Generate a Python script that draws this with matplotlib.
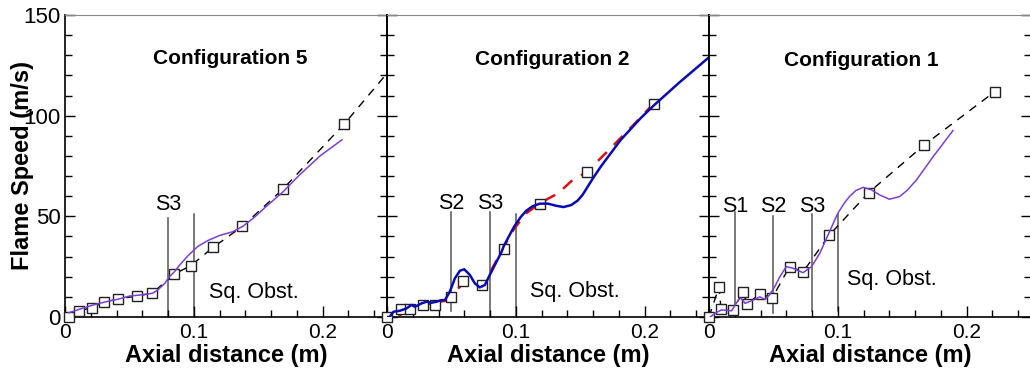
"""Flame speed vs axial distance for three obstacle configurations."""

import matplotlib

matplotlib.use("Agg")
import matplotlib.pyplot as plt
from matplotlib.ticker import MultipleLocator

plt.rcParams["font.family"] = ["Liberation Sans", "DejaVu Sans"]

# --- Configuration 5 ---
c5_exp_x = [0.003, 0.011, 0.021, 0.030, 0.041, 0.0556, 0.0677, 0.085, 0.0977, 0.115, 0.1377, 0.169, 0.217]
c5_exp_y = [0.2, 3.0, 4.7, 7.4, 8.9, 10.4, 11.8, 21.4, 25.5, 34.6, 45.0, 63.4, 96.0]
c5_fit_x = c5_exp_x + [0.25]
c5_fit_y = c5_exp_y + [121.0]
c5_sim_x = [0.003, 0.011, 0.022, 0.032, 0.041, 0.050, 0.058, 0.068, 0.072, 0.0775, 0.081, 0.085,
            0.089, 0.0956, 0.103, 0.111, 0.120, 0.130, 0.138, 0.147, 0.156, 0.169, 0.182, 0.198, 0.215]
c5_sim_y = [2.1, 3.8, 6.0, 7.6, 8.8, 10.4, 10.9, 11.8, 13.4, 16.7, 20.0, 22.5,
            25.8, 30.5, 35.0, 38.0, 40.5, 42.3, 45.0, 49.5, 54.8, 62.0, 70.5, 80.0, 88.0]

# --- Configuration 2 ---
c2_exp_x = [0.0, 0.0108, 0.0178, 0.0278, 0.0372, 0.050, 0.059, 0.074, 0.0905, 0.1186, 0.155, 0.207]
c2_exp_y = [0.0, 3.9, 3.8, 6.0, 6.0, 10.1, 18.0, 16.0, 33.8, 56.0, 72.0, 106.0]
c2_red_x = [0.009, 0.015, 0.020, 0.030, 0.040, 0.045, 0.050, 0.055, 0.059, 0.0667, 0.072, 0.076,
            0.081, 0.090, 0.098, 0.108, 0.120, 0.133, 0.144, 0.155, 0.170, 0.190, 0.207]
c2_red_y = [0.5, 3.0, 4.5, 6.0, 7.5, 8.0, 10.0, 14.0, 16.5, 14.2, 14.8, 16.4,
            23.3, 34.0, 43.2, 51.5, 57.0, 61.5, 68.0, 72.0, 81.5, 94.5, 106.0]
c2_blue_x = [0.0, 0.002, 0.005, 0.010, 0.0153, 0.019, 0.0217, 0.027, 0.0308, 0.0346, 0.0385, 0.0424,
             0.045, 0.0488, 0.0527, 0.0566, 0.060, 0.0643, 0.0682, 0.072, 0.076, 0.0798, 0.0837,
             0.089, 0.0907, 0.095, 0.099, 0.104, 0.108, 0.113, 0.1186, 0.125, 0.131, 0.137, 0.143,
             0.148, 0.152, 0.155, 0.160, 0.166, 0.1815, 0.197, 0.207, 0.227, 0.25]
c2_blue_y = [0.0, 0.0, 2.6, 3.1, 4.3, 6.0, 5.1, 6.8, 7.6, 7.1, 7.6, 8.4,
             8.4, 12.6, 19.2, 23.0, 23.7, 20.9, 16.7, 14.7, 15.9, 20.9, 25.8,
             32.4, 35.3, 40.5, 45.2, 49.8, 52.7, 55.0, 56.3, 56.3, 55.3, 54.6, 55.6,
             57.8, 60.8, 63.9, 69.0, 74.7, 88.0, 98.8, 105.0, 116.5, 129.0]

# --- Configuration 1 ---
c1_exp_x = [0.0, 0.0078, 0.0093, 0.0184, 0.0264, 0.0296, 0.0393, 0.0492, 0.0625, 0.0731, 0.0933, 0.124, 0.167, 0.222]
c1_exp_y = [0.0, 15.0, 3.8, 3.3, 12.5, 6.4, 11.4, 9.6, 25.0, 22.5, 40.6, 61.8, 85.4, 112.0]
c1_sim_x = [0.001, 0.005, 0.0098, 0.0176, 0.0227, 0.0248, 0.028, 0.0344, 0.0395, 0.0434, 0.047,
            0.051, 0.055, 0.060, 0.0653, 0.073, 0.0796, 0.086, 0.0935, 0.100, 0.105, 0.109, 0.114,
            0.1196, 0.126, 0.1326, 0.140, 0.148, 0.154, 0.161, 0.174, 0.1894]
c1_sim_y = [0.0, 2.0, 3.5, 3.1, 8.4, 9.4, 6.8, 8.4, 10.0, 8.8, 11.0,
            15.0, 20.0, 25.0, 24.2, 22.0, 25.0, 31.6, 42.3, 51.5, 56.5, 59.8, 62.8,
            64.4, 63.2, 60.6, 58.5, 59.8, 63.0, 68.0, 79.6, 92.6]

# station markers: name, x, bottom, top
c5_stations = [("S3", 0.08, 0, 49), ("", 0.1, 0, 51)]
c2_stations = [("S2", 0.05, 3, 52), ("S3", 0.08, 0, 52), ("", 0.1, 0, 51)]
c1_stations = [("S1", 0.02, 3, 52), ("S2", 0.05, 2, 50), ("S3", 0.08, 3, 51), ("", 0.1, 3, 51)]

PURPLE = "#7b3fd4"
BLUE = "#0a0ab4"
RED = "#e01010"


def style_axes(ax, first):
    ax.set_xlim(0, 0.25)
    ax.set_ylim(0, 150)
    ax.xaxis.set_major_locator(MultipleLocator(0.1))
    ax.xaxis.set_minor_locator(MultipleLocator(0.02))
    ax.yaxis.set_major_locator(MultipleLocator(50))
    ax.yaxis.set_minor_locator(MultipleLocator(10))
    ax.xaxis.set_major_formatter(lambda v, p: "0" if v == 0 else f"{v:g}")
    ax.tick_params(axis="both", which="both", direction="in", top=False, left=True, right=True)
    ax.tick_params(axis="x", which="major", length=8, width=1, labelsize=15, pad=4)
    ax.tick_params(axis="x", which="minor", length=5, width=1)
    ax.tick_params(axis="y", which="major", length=7, width=1, labelsize=16, pad=3)
    ax.tick_params(axis="y", which="minor", length=5, width=1)
    if not first:
        ax.tick_params(axis="y", labelleft=False)
    ax.spines["top"].set_color("#888888")
    for side in ("left", "right", "bottom"):
        ax.spines[side].set_linewidth(1.2)
    ax.set_xlabel("Axial distance (m)", fontsize=17, fontweight="bold")
    ax.xaxis.set_label_coords(0.5, -0.09)
    ax.patch.set_alpha(0)


def draw_stations(ax, stations, label_y, obst_xy):
    for name, x, lo, hi in stations:
        ax.plot([x, x], [lo, hi], color="#555555", lw=1.1, zorder=1)
        if name:
            ax.text(x, label_y, name, ha="center", va="baseline", fontsize=15.5)
    ax.text(obst_xy[0], obst_xy[1], "Sq. Obst.", ha="left", va="baseline", fontsize=15.5)


def squares(ax, x, y):
    ax.plot(x, y, ls="none", marker="s", ms=7, mfc="white", mec="#222222", mew=1.0,
            zorder=3, clip_on=False)


fig = plt.figure(figsize=(10.3, 3.78), dpi=100)
W, H = 1030, 378
width = 322 / W
bottom = 61 / H
height = 302 / H
axes = [fig.add_axes([(65 + 322 * i) / W, bottom, width, height]) for i in range(3)]
ax5, ax2, ax1 = axes

# Configuration 5
ax5.plot(c5_fit_x, c5_fit_y, color="black", lw=1.0, dashes=(6, 5), zorder=2)
squares(ax5, c5_exp_x, c5_exp_y)
ax5.plot(c5_sim_x, c5_sim_y, color=PURPLE, lw=1.1, zorder=4)
draw_stations(ax5, c5_stations, 53.2, (0.1116, 9.6))
ax5.text(0.128, 125.7, "Configuration 5", ha="center", va="baseline", fontsize=15, fontweight="bold")
ax5.set_ylabel("Flame Speed (m/s)", fontsize=17, fontweight="bold")
ax5.yaxis.set_label_coords(-0.097, 0.5)

# Configuration 2
ax2.plot(c2_red_x, c2_red_y, color=RED, lw=1.8, dashes=(5, 4), zorder=2)
squares(ax2, c2_exp_x, c2_exp_y)
ax2.plot(c2_blue_x, c2_blue_y, color=BLUE, lw=1.8, zorder=4)
draw_stations(ax2, c2_stations, 53.5, (0.1109, 10.1))
ax2.text(0.128, 125.0, "Configuration 2", ha="center", va="baseline", fontsize=15, fontweight="bold")

# Configuration 1
ax1.plot(c1_exp_x, c1_exp_y, color="black", lw=1.0, dashes=(6, 5), zorder=2)
squares(ax1, c1_exp_x, c1_exp_y)
ax1.plot(c1_sim_x, c1_sim_y, color=PURPLE, lw=1.1, zorder=4)
draw_stations(ax1, c1_stations, 52.3, (0.107, 15.9))
ax1.text(0.118, 124.7, "Configuration 1", ha="center", va="baseline", fontsize=15, fontweight="bold")

for i, ax in enumerate(axes):
    style_axes(ax, i == 0)

fig.savefig("out.png", dpi=100)
